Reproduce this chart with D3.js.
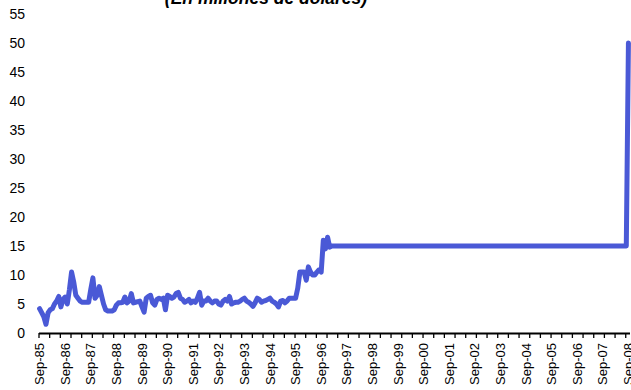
<!DOCTYPE html>
<html><head><meta charset="utf-8">
<script src="https://cdn.jsdelivr.net/npm/d3@7"></script>
<style>
html,body{margin:0;padding:0;background:#fff;}
svg{display:block;}
text{font-family:"Liberation Sans",Arial,sans-serif;fill:#000;}
</style></head>
<body>
<svg id="chart" width="631" height="390"></svg>
<script>
// Monthly values, Sep-85 .. Sep-08 (millions of dollars)
const values = [
  4.2,3.5,2.8,1.5,3.5,4.0,4.2,5.0,5.5,6.3,4.5,5.8,
  6.2,5.0,7.5,10.5,8.8,6.5,6.0,5.5,5.3,5.3,5.3,5.3,
  7.5,9.5,6.0,6.5,8.0,6.5,5.0,4.0,3.8,3.8,3.8,4.0,
  4.8,5.2,5.2,5.3,6.2,5.2,5.5,6.8,5.2,5.3,5.4,5.5,
  4.5,3.6,6.0,6.3,6.5,5.2,4.8,5.8,6.0,5.8,6.0,4.0,
  6.5,6.3,6.0,6.2,6.8,7.0,6.0,5.8,5.3,5.5,5.8,5.2,
  5.5,5.3,6.0,7.0,4.8,5.5,5.5,6.0,5.5,5.2,5.5,5.5,
  5.0,4.8,5.5,5.8,5.5,6.3,5.0,5.2,5.3,5.3,5.5,5.8,
  6.0,5.5,5.3,5.0,4.6,5.2,6.0,5.8,5.3,5.5,5.6,5.8,
  6.0,5.5,5.3,5.0,4.5,5.5,5.6,5.2,5.5,6.0,6.0,6.0,
  6.0,7.7,10.5,10.5,10.5,9.1,11.4,10.5,10.0,10.0,10.5,10.9,
  10.5,16.0,14.5,16.5,14.8,15,15,15,15,15,15,15,
  15,15,15,15,15,15,15,15,15,15,15,15,
  15,15,15,15,15,15,15,15,15,15,15,15,
  15,15,15,15,15,15,15,15,15,15,15,15,
  15,15,15,15,15,15,15,15,15,15,15,15,
  15,15,15,15,15,15,15,15,15,15,15,15,
  15,15,15,15,15,15,15,15,15,15,15,15,
  15,15,15,15,15,15,15,15,15,15,15,15,
  15,15,15,15,15,15,15,15,15,15,15,15,
  15,15,15,15,15,15,15,15,15,15,15,15,
  15,15,15,15,15,15,15,15,15,15,15,15,
  15,15,15,15,15,15,15,15,15,15,15,15,
  50
];
const xLabels = ["Sep-85","Sep-86","Sep-87","Sep-88","Sep-89","Sep-90","Sep-91","Sep-92",
  "Sep-93","Sep-94","Sep-95","Sep-96","Sep-97","Sep-98","Sep-99","Sep-00","Sep-01",
  "Sep-02","Sep-03","Sep-04","Sep-05","Sep-06","Sep-07","Sep-08"];
const yTicks = [0,5,10,15,20,25,30,35,40,45,50,55];
const title = "(En millones de dólares)";

const svg = d3.select("#chart");
const n = values.length;
const x = d3.scaleLinear().domain([0, n]).range([38.5, 629.5]);
const y = d3.scaleLinear().domain([0, 55]).range([333, 14]);

// title (cut off at top, as in the reference)
svg.append("text").attr("x", 266).attr("y", 4)
  .attr("text-anchor", "middle")
  .style("font-size", "17.5px").style("font-weight", "bold").style("font-style", "italic")
  .text(title);

// y axis labels
const yAxis = d3.axisLeft(y).tickValues(yTicks).tickSize(0).tickPadding(0);
const gy = svg.append("g").attr("transform", "translate(25,0)").call(yAxis);
gy.select(".domain").remove();
gy.selectAll("text").style("font-size", "14px").style("font-family", "'Liberation Sans',Arial,sans-serif").attr("fill", "#000");

// x axis ticks
const tickIdx = d3.range(0, n, 5);
const xAxis = d3.axisBottom(x).tickValues(tickIdx).tickSize(5).tickSizeOuter(0).tickFormat("");
const gx = svg.append("g").attr("transform", "translate(0,333)").call(xAxis);
gx.select(".domain").attr("stroke", "#000").attr("stroke-width", 2.2);
gx.selectAll(".tick line").attr("stroke", "#000").attr("stroke-width", 1.3);

// x labels
svg.append("g").selectAll("text").data(xLabels).join("text")
  .attr("transform", (d, i) => `translate(${x(i * 12 + 0.5)},343) rotate(-90)`)
  .attr("text-anchor", "end").attr("dy", "0.35em")
  .style("font-size", "13px")
  .text(d => d);

// line
const line = d3.line().x((d, i) => x(i + 0.5)).y(d => y(d));
svg.append("path").datum(values)
  .attr("fill", "none").attr("stroke", "#4a59d6").attr("stroke-width", 5)
  .attr("stroke-linejoin", "round").attr("stroke-linecap", "round")
  .attr("d", line);
</script>
</body></html>
